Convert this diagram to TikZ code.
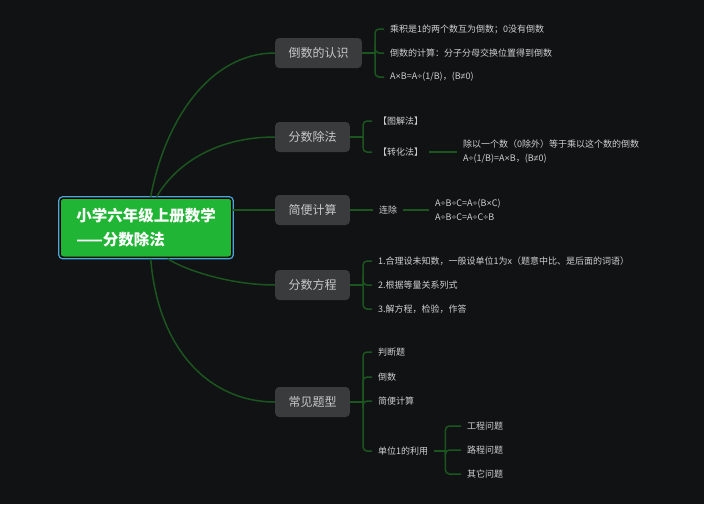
\documentclass[tikz,border=0pt]{standalone}
\usepackage{fontspec}
\setmainfont{Noto Sans CJK SC}
\newfontfamily\symfont{Liberation Sans}
\newcommand{\Mul}{{\symfont ×}}
\newcommand{\Dv}{{\symfont ÷}}
\newcommand{\Ne}{{\symfont ≠}}
\definecolor{bgc}{HTML}{111214}
\definecolor{connc}{HTML}{1B561E}
\definecolor{boxc}{HTML}{3A3B3D}
\definecolor{boxtext}{HTML}{C8C8C8}
\definecolor{leaftext}{HTML}{CFCFCF}
\definecolor{rootgreen}{HTML}{20B534}
\definecolor{rootblue}{HTML}{4FA3D8}
\tikzset{
  rootbox/.style={rectangle, rounded corners=3, fill=rootgreen, draw=black, line width=0.6,
    minimum width=171, minimum height=58.5, align=left, text=white,
    font=\fontsize{15.5}{24}\selectfont\bfseries},
  branch/.style={rectangle, rounded corners=4, fill=boxc, text=boxtext, anchor=west,
    minimum height=30, inner xsep=13.3, inner ysep=0, font=\fontsize{12}{14}\selectfont},
  leaf/.style={anchor=west, inner xsep=6, inner ysep=1, text=leaftext, align=left,
    font=\fontsize{9}{14}\selectfont},
  conn/.style={draw=connc, line width=1.5}
}
\begin{document}
\begin{tikzpicture}[x=1pt,y=-1pt]
\fill[bgc] (0,0) rectangle (704,504);
\useasboundingbox (0,0) rectangle (704,504);

% root
\node[rootbox] (root) at (146,227.75) {小学六年级上册数学\\——分数除法};
\draw[rootblue, line width=1.2, rounded corners=4]
  ([shift={(-1.5,-1.5)}]root.north west) rectangle ([shift={(1.5,1.5)}]root.south east);

% branches
\node[branch] (b1) at (275,53) {倒数的认识};
\node[branch] (b2) at (275,137) {分数除法};
\node[branch] (b3) at (275,210) {简便计算};
\node[branch] (b4) at (275,285) {分数方程};
\node[branch] (b5) at (275,402) {常见题型};

% root connectors
\draw[conn] ([shift={(90.5,-1.5)}]root.north west) .. controls (165,120) and (210,53) .. (b1.west);
\draw[conn] ([shift={(96.5,-1.5)}]root.north west) .. controls (175,165) and (215,137) .. (b2.west);
\draw[conn] (root.east |- b3.west) -- (b3.west);
\draw[conn] ([shift={(107.5,1.5)}]root.south west) .. controls (185,270) and (230,285) .. (b4.west);
\draw[conn] ([shift={(90.5,1.5)}]root.south west) .. controls (158,350) and (210,402) .. (b5.west);

% branch 1
\node[leaf] (c11) at (384,29) {乘积是1的两个数互为倒数；0没有倒数};
\node[leaf] (c12) at (384,53) {倒数的计算：分子分母交换位置得到倒数};
\node[leaf] (c13) at (384,77) {A\Mul B=A\Dv(1/B)，(B\Ne0)};
\draw[conn] (b1.east) -- ++(13,0) coordinate (j1);
\foreach \c in {c11,c12,c13} \draw[conn, rounded corners=4] (j1) |- (\c.west);

% branch 2
\node[leaf] (c21) at (372,121) {【图解法】};
\node[leaf] (c22) at (372,152) {【转化法】};
\draw[conn] (b2.east) -- ++(13,0) coordinate (j2);
\foreach \c in {c21,c22} \draw[conn, rounded corners=4] (j2) |- (\c.west);
\node[leaf] (d22) at (457,152) {除以一个数（0除外）等于乘以这个数的倒数\\A\Dv(1/B)=A\Mul B，(B\Ne0)};
\draw[conn] (c22.east) -- (d22.west);

% branch 3
\node[leaf] (c31) at (373,210) {连除};
\draw[conn] (b3.east) -- (c31.west);
\node[leaf] (d31) at (429,210) {A\Dv B\Dv C=A\Dv(B\Mul C)\\A\Dv B\Dv C=A\Dv C\Dv B};
\draw[conn] (c31.east) -- (d31.west);

% branch 4
\node[leaf] (c41) at (372,261) {1.合理设未知数，一般设单位1为x（题意中比、是后面的词语）};
\node[leaf] (c42) at (372,285) {2.根据等量关系列式};
\node[leaf] (c43) at (372,309) {3.解方程，检验，作答};
\draw[conn] (b4.east) -- ++(13,0) coordinate (j4);
\foreach \c in {c41,c42,c43} \draw[conn, rounded corners=4] (j4) |- (\c.west);

% branch 5
\node[leaf] (c51) at (372,352) {判断题};
\node[leaf] (c52) at (372,377) {倒数};
\node[leaf] (c53) at (372,401) {简便计算};
\node[leaf] (c54) at (372,451) {单位1的利用};
\draw[conn] (b5.east) -- ++(13,0) coordinate (j5);
\foreach \c in {c51,c52,c53,c54} \draw[conn, rounded corners=4] (j5) |- (\c.west);

\node[leaf] (e1) at (461,426) {工程问题};
\node[leaf] (e2) at (461,450) {路程问题};
\node[leaf] (e3) at (461,474) {其它问题};
\draw[conn] (c54.east) -- ++(11,0) coordinate (j6);
\foreach \c in {e1,e2,e3} \draw[conn, rounded corners=4] (j6) |- (\c.west);
\end{tikzpicture}
\end{document}
